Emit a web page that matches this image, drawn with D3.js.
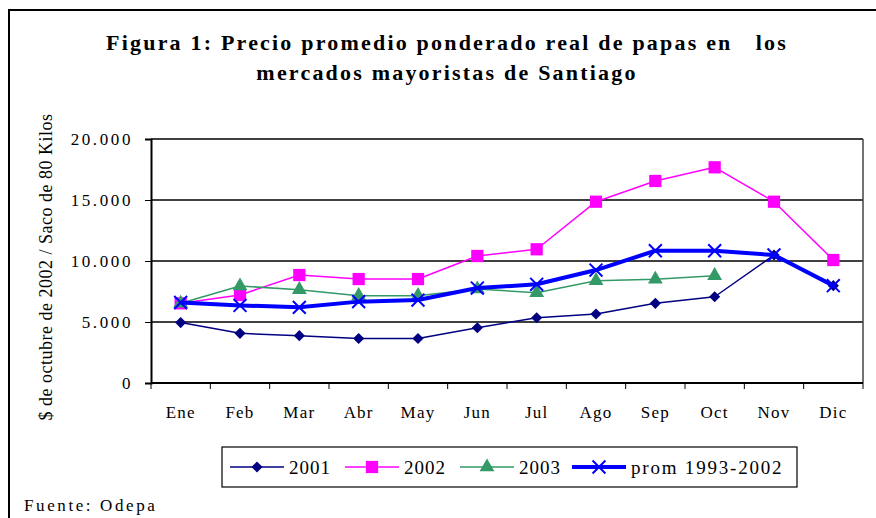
<!DOCTYPE html>
<html>
<head>
<meta charset="utf-8">
<script src="https://cdn.jsdelivr.net/npm/d3@7"></script>
<style>
  body { margin: 0; background: #fff; }
  svg { display: block; font-family: "Liberation Serif", "Times New Roman", serif; }
</style>
</head>
<body>
<svg width="876" height="518"></svg>
<script>
// data
var months = ["Ene", "Feb", "Mar", "Abr", "May", "Jun", "Jul", "Ago", "Sep", "Oct", "Nov", "Dic"];
var v2001 = [4950, 4070, 3880, 3650, 3650, 4530, 5350, 5660, 6530, 7070, 10490, 7980];
var v2002 = [6530, 7210, 8850, 8520, 8520, 10410, 10960, 14860, 16560, 17680, 14860, 10080];
var v2003 = [6530, 7950, 7650, 7160, 7160, 7700, 7400, 8390, 8500, 8800];
var vProm = [6600, 6360, 6200, 6670, 6800, 7780, 8090, 9260, 10840, 10840, 10490, 7980];
var yTicks = [0, 5000, 10000, 15000, 20000];
var seriesNames = ["2001", "2002", "2003", "prom 1993-2002"];

var series = [
  { name: seriesNames[0], values: v2001, color: "#000080", width: 1.5, sym: "diamond" },
  { name: seriesNames[1], values: v2002, color: "#ff00ff", width: 1.5, sym: "square" },
  { name: seriesNames[2], values: v2003, color: "#339966", width: 1.5, sym: "triangle" },
  { name: seriesNames[3], values: vProm, color: "#0000ff", width: 4, sym: "times" }
];

var svg = d3.select("svg");

// outer frame
svg.append("rect")
  .attr("x", 9).attr("y", 10).attr("width", 900).attr("height", 560)
  .attr("fill", "none").attr("stroke", "#000").attr("stroke-width", 2);

// title
var title = svg.append("text")
  .attr("text-anchor", "middle")
  .attr("font-size", 22).attr("font-weight", "bold")
  .attr("letter-spacing", 2.2)
  .attr("xml:space", "preserve");
title.append("tspan").attr("x", 447).attr("y", 50).text("Figura 1: Precio promedio ponderado real de papas en   los");
title.append("tspan").attr("x", 447).attr("y", 80).text("mercados mayoristas de Santiago");

var plotL = 151, plotR = 863, plotT = 139, plotB = 383;

var x = d3.scaleBand().domain(months).range([plotL, plotR]).padding(0);
var y = d3.scaleLinear().domain([0, 20000]).range([plotB, plotT]);

var loc = d3.formatLocale({ decimal: ",", thousands: ".", grouping: [3], currency: ["$", ""] });
var fmt = loc.format(",.0f");

// gridlines
svg.append("g").selectAll("line")
  .data(yTicks.filter(d => d > 0))
  .join("line")
  .attr("x1", plotL).attr("x2", plotR)
  .attr("y1", d => y(d)).attr("y2", d => y(d))
  .attr("stroke", "#000").attr("stroke-width", 1.5);

// right frame
svg.append("line")
  .attr("x1", plotR).attr("x2", plotR).attr("y1", plotT).attr("y2", plotB)
  .attr("stroke", "#444").attr("stroke-width", 1.5);

// y axis
var yAxis = svg.append("g")
  .attr("transform", "translate(" + plotL + ",0)")
  .call(d3.axisLeft(y).tickValues(yTicks).tickFormat(fmt).tickSize(6).tickPadding(12));
yAxis.select(".domain").attr("stroke-width", 2);
yAxis.selectAll("text")
  .attr("font-family", "Liberation Serif").attr("font-size", 17)
  .attr("letter-spacing", 2.6).attr("fill", "#000");

// x axis, ticks on band boundaries
var xAxis = svg.append("g")
  .attr("transform", "translate(0," + plotB + ")");
xAxis.append("line")
  .attr("x1", plotL).attr("x2", plotR)
  .attr("stroke", "#000").attr("stroke-width", 2);
xAxis.selectAll(".tk")
  .data(months.concat(["end"]))
  .join("line").attr("class", "tk")
  .attr("x1", (d, i) => i < 12 ? x(d) : plotR)
  .attr("x2", (d, i) => i < 12 ? x(d) : plotR)
  .attr("y1", 0).attr("y2", 6)
  .attr("stroke", "#000").attr("stroke-width", 1);
xAxis.selectAll(".lbl")
  .data(months)
  .join("text").attr("class", "lbl")
  .attr("x", d => x(d) + x.bandwidth() / 2)
  .attr("y", 35)
  .attr("text-anchor", "middle")
  .attr("font-size", 17).attr("letter-spacing", 1.2)
  .text(d => d);

// y label
svg.append("text")
  .attr("transform", "translate(52,267) rotate(-90)")
  .attr("text-anchor", "middle")
  .attr("font-size", 18).attr("letter-spacing", 0.5)
  .text("$ de octubre de 2002 / Saco de 80 Kilos");

var symbols = {
  diamond: d3.symbol().type(d3.symbolSquare).size(62),
  square: d3.symbol().type(d3.symbolSquare).size(150),
  triangle: d3.symbol().type(d3.symbolTriangle).size(95),
  times: d3.symbol().type(d3.symbolTimes).size(110)
};

function drawMarker(sel, s) {
  var p = sel.append("path").attr("d", symbols[s.sym]());
  if (s.sym === "times") {
    p.attr("fill", "none").attr("stroke", s.color).attr("stroke-width", 2);
  } else {
    p.attr("fill", s.color).attr("stroke", "none");
  }
  if (s.sym === "diamond") p.attr("transform", "rotate(45)");
  return p;
}

var line = d3.line()
  .x((d, i) => x(months[i]) + x.bandwidth() / 2)
  .y(d => y(d));

series.forEach(s => {
  var g = svg.append("g");
  g.append("path")
    .attr("d", line(s.values))
    .attr("fill", "none")
    .attr("stroke", s.color)
    .attr("stroke-width", s.width)
    .attr("stroke-linejoin", "round");
  g.selectAll("g.pt")
    .data(s.values)
    .join("g").attr("class", "pt")
    .attr("transform", (d, i) => "translate(" + (x(months[i]) + x.bandwidth() / 2) + "," + y(d) + ")")
    .each(function() { drawMarker(d3.select(this), s); });
});

// legend
var legend = svg.append("g");
legend.append("rect")
  .attr("x", 222).attr("y", 447).attr("width", 575).attr("height", 40)
  .attr("fill", "#fff").attr("stroke", "#000").attr("stroke-width", 1.2);
var legX = [230, 345, 460, 572];
series.forEach((s, i) => {
  var g = legend.append("g").attr("transform", "translate(" + legX[i] + ",467)");
  g.append("line").attr("x1", 0).attr("x2", 54)
    .attr("stroke", s.color).attr("stroke-width", s.width);
  drawMarker(g.append("g").attr("transform", "translate(27,0)"), s);
  g.append("text")
    .attr("x", 59).attr("y", 7)
    .attr("font-size", 19).attr("letter-spacing", i === 3 ? 1.8 : 1)
    .text(s.name);
});

// source
svg.append("text")
  .attr("x", 24).attr("y", 511)
  .attr("font-size", 17).attr("letter-spacing", 2.6)
  .text("Fuente: Odepa");
</script>
</body>
</html>
